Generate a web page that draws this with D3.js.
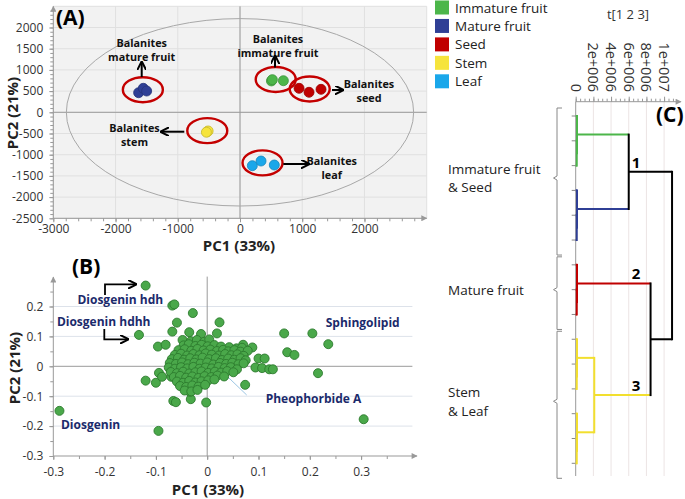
<!DOCTYPE html>
<html><head><meta charset="utf-8">
<script src="https://cdn.jsdelivr.net/npm/d3@7"></script>
<style>body{margin:0;background:#fff;} svg{display:block;} text{font-family:"Open Sans",sans-serif;}</style>
</head><body><svg id="c" width="685" height="499"></svg>
<script>
// ---------------- DATA ----------------
const groups = ["Immature fruit","Mature fruit","Seed","Stem","Leaf"];
const groupColors = ["#4cb64a","#2f3f95","#c00000","#f6e43c","#1aa7ea"];
const immatureFruit = [[505,740],[520,770],[697,745]];
const matureFruit = [[-1629,462],[-1554,566],[-1500,502]];
const seed = [[949,566],[1109,472],[1302,542]];
const stem = [[-526,-458],[-512,-440],[-540,-470]];
const leaf = [[198,-1259],[338,-1149],[551,-1243]];
const scoresA = [immatureFruit, matureFruit, seed, stem, leaf];
const groupLabelsA = [["Balanites","immature fruit"],["Balanites","mature fruit"],["Balanites","seed"],["Balanites","stem"],["Balanites","leaf"]];
const xTicksA = [-3000,-2000,-1000,0,1000,2000];
const yTicksA = [-2500,-2000,-1500,-1000,-500,0,500,1000,1500,2000];

const xTicksB = [-0.3,-0.2,-0.1,0,0.1,0.2,0.3];
const yTicksB = [-0.3,-0.2,-0.1,0,0.1,0.2];
const loadings = [
 [-0.12,0.27],[-0.068,0.203],[-0.064,0.207],[-0.028,0.178],[-0.133,0.105],[-0.288,-0.149],[-0.095,-0.216],
 [0.150,0.11],[0.205,0.11],[0.236,0.074],[0.156,0.047],[0.17,0.038],[0.216,-0.023],[0.305,-0.177],
 [-0.002,-0.121],[0.074,-0.062],[-0.032,-0.11],[-0.066,-0.116],[-0.061,-0.12],[-0.12,-0.048],[-0.1,-0.055],
 [-0.094,-0.022],[-0.088,-0.035],[-0.096,0.066],[-0.081,0.072],[-0.059,0.146],[0.024,0.147],[-0.068,0.116],
 [-0.035,0.114],[-0.012,0.108],[0.019,0.11],[-0.048,0.088],[0.07,0.072],[0.088,0.063],[0.1,0.026],[0.112,0.026],
 [0.094,-0.004],[0.107,-0.006],[0.121,-0.01],[0.128,-0.01],[-0.07,-0.035],[-0.034,-0.085],
 [-0.032,0.084],[-0.02,0.088],[-0.006,0.082],[0.004,0.09],
 [-0.046,0.07],[-0.036,0.074],[-0.023,0.068],[-0.011,0.072],[0.001,0.067],[0.014,0.071],[0.027,0.066],[0.043,0.064],[0.057,0.06],[0.068,0.062],
 [-0.056,0.054],[-0.044,0.057],[-0.031,0.052],[-0.019,0.058],[-0.007,0.053],[0.006,0.056],[0.019,0.051],[0.031,0.055],[0.041,0.05],[0.053,0.054],[0.065,0.049],[0.079,0.052],
 [-0.063,0.038],[-0.051,0.042],[-0.039,0.036],[-0.027,0.041],[-0.015,0.037],[-0.003,0.043],[0.009,0.039],[0.023,0.036],[0.035,0.041],[0.047,0.037],[0.059,0.04],[0.071,0.035],
 [-0.069,0.024],[-0.057,0.028],[-0.045,0.022],[-0.033,0.027],[-0.021,0.023],[-0.009,0.029],[0.004,0.024],[0.017,0.027],[0.029,0.021],[0.041,0.026],[0.053,0.022],[0.065,0.027],[0.075,0.02],
 [-0.073,0.011],[-0.061,0.008],[-0.049,0.013],[-0.037,0.007],[-0.025,0.012],[-0.013,0.009],[0.0,0.013],[0.012,0.006],[0.025,0.011],[0.037,0.008],[0.049,0.012],[0.061,0.007],[0.071,0.01],
 [-0.075,-0.004],[-0.063,-0.008],[-0.051,-0.003],[-0.039,-0.007],[-0.027,-0.002],[-0.015,-0.008],[-0.003,-0.004],[0.009,-0.007],[0.022,-0.002],[0.034,-0.006],[0.046,-0.003],[0.058,-0.01],
 [-0.071,-0.019],[-0.059,-0.023],[-0.047,-0.018],[-0.035,-0.024],[-0.023,-0.02],[-0.011,-0.017],[0.002,-0.022],[0.015,-0.018],[0.027,-0.021],[0.039,-0.016],[0.051,-0.02],
 [-0.065,-0.036],[-0.053,-0.032],[-0.041,-0.038],[-0.029,-0.034],[-0.017,-0.039],[-0.005,-0.033],[0.008,-0.036],[0.02,-0.031],[0.033,-0.034],
 [-0.059,-0.051],[-0.047,-0.055],[-0.035,-0.049],[-0.023,-0.054],[-0.011,-0.05],[0.002,-0.047],[0.014,-0.044],
 [-0.053,-0.066],[-0.041,-0.069],[-0.029,-0.064],[-0.017,-0.068],[-0.004,-0.062],
 [-0.044,-0.081],[-0.031,-0.084],[-0.019,-0.079]
];
const loadingLabels = [["Diosgenin hdh",-0.253,0.21],["Diosgenin hdhh",-0.293,0.136],["Sphingolipid",0.231,0.132],["Pheophorbide A",0.114,-0.122],["Diosgenin",-0.285,-0.21]];

const dendroTicks = [0,2e6,4e6,6e6,8e6,1e7];
const dendroTickLabels = ["0","2e+006","4e+006","6e+006","8e+006","1e+007"];
const leafCount = 15;
// merges: [childA, childB, height, colour]; ids 15.. in order
const dendroMerges = [
 [1,2,0.12e6,"#4cb64a"],[0,15,0.15e6,"#4cb64a"],
 [4,5,0.12e6,"#2f3f95"],[3,17,0.15e6,"#2f3f95"],
 [7,8,0.12e6,"#c00000"],[6,19,0.15e6,"#c00000"],
 [10,11,0.12e6,"#f2df2e"],[9,21,0.15e6,"#f2df2e"],
 [13,14,0.12e6,"#f2df2e"],[12,23,0.15e6,"#f2df2e"],
 [22,24,2.1e6,"#f2df2e"],
 [16,18,6.0e6,"#000"],[20,25,8.47e6,"#000"],[26,27,10.9e6,"#000"]
];
const clusterNumbers = [["1",26],["2",20],["3",25]];
const clusterGroups = [[["Immature fruit","& Seed"],0,5],[["Mature fruit"],6,8],[["Stem","& Leaf"],9,14]];

// ---------------- DRAW ----------------
const svg = d3.select("#c");
const defs = svg.append("defs");
defs.append("marker").attr("id","axArrow").attr("viewBox","0 0 10 10").attr("refX",9).attr("refY",5)
  .attr("markerWidth",8).attr("markerHeight",6).attr("markerUnits","userSpaceOnUse").attr("orient","auto")
  .append("path").attr("d","M0,0L10,5L0,10Z").attr("fill","#999");
defs.append("marker").attr("id","blkArrow").attr("viewBox","0 0 10 10").attr("refX",8).attr("refY",5)
  .attr("markerWidth",9).attr("markerHeight",9).attr("markerUnits","userSpaceOnUse").attr("orient","auto")
  .append("path").attr("d","M0,0L10,5L0,10").attr("fill","none").attr("stroke","#000").attr("stroke-width",2.2);

const fmtInt = d=>String(d);
const fmtDec = d=>d===0?"0":d.toFixed(1);

// ===== Panel A =====
const xA = d3.scaleLinear().domain([-3000,3000]).range([53.3,426.7]);
const yA = d3.scaleLinear().domain([-2500,2500]).range([218.3,6.3]);
const gA = svg.append("g");
gA.append("rect").attr("x",xA(-3000)).attr("y",yA(2500)).attr("width",xA(3000)-xA(-3000)).attr("height",yA(-2500)-yA(2500)).attr("fill","#f2f2f2");
gA.selectAll(".vg").data(d3.range(-3000,3001,1000)).join("line").attr("x1",d=>xA(d)).attr("x2",d=>xA(d)).attr("y1",yA(2500)).attr("y2",yA(-2500)).attr("stroke","#e0e0e0");
gA.selectAll(".hg").data(d3.range(-2500,2501,500)).join("line").attr("y1",d=>yA(d)).attr("y2",d=>yA(d)).attr("x1",xA(-3000)).attr("x2",xA(3000)).attr("stroke","#e0e0e0");
gA.append("line").attr("x1",xA(0)).attr("x2",xA(0)).attr("y1",yA(2500)).attr("y2",yA(-2500)).attr("stroke","#9a9a9a");
gA.append("line").attr("y1",yA(0)).attr("y2",yA(0)).attr("x1",xA(-3000)).attr("x2",xA(3000)).attr("stroke","#9a9a9a");
gA.append("ellipse").attr("cx",xA(0)).attr("cy",yA(0)).attr("rx",xA(2790)-xA(0)).attr("ry",yA(0)-yA(2210)).attr("fill","none").attr("stroke","#a8a8a8").attr("stroke-width",1);
// axes
gA.append("g").attr("transform",`translate(0,${yA(-2500)})`).call(d3.axisBottom(xA).tickValues(d3.range(-3000,2801,200)).tickSize(3).tickFormat("")).call(g=>g.select(".domain").remove());
gA.append("g").attr("transform",`translate(0,${yA(-2500)})`).call(d3.axisBottom(xA).tickValues(xTicksA).tickSize(4).tickPadding(2).tickFormat(fmtInt)).call(g=>g.select(".domain").remove());
gA.append("g").attr("transform",`translate(${xA(-3000)},0)`).call(d3.axisLeft(yA).tickValues(d3.range(-2500,2401,100)).tickSize(3).tickFormat("")).call(g=>g.select(".domain").remove());
gA.append("g").attr("transform",`translate(${xA(-3000)},0)`).call(d3.axisLeft(yA).tickValues(yTicksA).tickSize(4).tickPadding(6).tickFormat(fmtInt)).call(g=>g.select(".domain").remove());
gA.append("line").attr("x1",xA(-3000)).attr("x2",xA(3000)).attr("y1",yA(-2500)).attr("y2",yA(-2500)).attr("stroke","#999").attr("marker-end","url(#axArrow)");
gA.append("line").attr("x1",xA(-3000)).attr("x2",xA(-3000)).attr("y1",yA(-2500)).attr("y2",yA(2500)).attr("stroke","#999").attr("marker-end","url(#axArrow)");
// group ellipses & points
scoresA.forEach((pts,i)=>{
  const mx=d3.mean(pts,d=>d[0]), my=d3.mean(pts,d=>d[1]);
  gA.append("ellipse").attr("cx",xA(mx)).attr("cy",yA(my)-1).attr("rx",20).attr("ry",12.5).attr("fill","none").attr("stroke","#c40000").attr("stroke-width",2.4);
  gA.selectAll(null).data(pts).join("circle").attr("cx",d=>xA(d[0])).attr("cy",d=>yA(d[1])).attr("r",5)
    .attr("fill",groupColors[i]).attr("stroke",d3.color(groupColors[i]).darker(0.6)).attr("stroke-width",0.8);
});
// labels A
const labA = [[278,38.5,0],[141.7,43,1],[369,84,2],[134.5,128,3],[331.7,161,4]];
labA.forEach(([x,y,i])=>{
  const t=gA.append("text").attr("x",x).attr("y",y+4).attr("text-anchor","middle").attr("font-size",10.8).attr("font-weight","bold").attr("fill","#111");
  groupLabelsA[i].forEach((s,k)=>t.append("tspan").attr("x",x).attr("dy",k?14:0).text(s));
});
const arrowsA = [[141.7,77,141.7,63],[275,67.5,275,57],[332,90,342,90],[184.3,131.7,162,131.7],[283.3,164,308,164]];
arrowsA.forEach(a=>gA.append("line").attr("x1",a[0]).attr("y1",a[1]).attr("x2",a[2]).attr("y2",a[3]).attr("stroke","#000").attr("stroke-width",2).attr("marker-end","url(#blkArrow)"));
svg.append("text").attr("x",56).attr("y",25).attr("font-size",21).attr("font-weight","bold").text("(A)");
svg.append("text").attr("x",239).attr("y",250.5).attr("text-anchor","middle").attr("font-size",15).attr("font-weight","bold").attr("fill","#222").text("PC1 (33%)");
svg.append("text").attr("transform","translate(18,113) rotate(-90)").attr("text-anchor","middle").attr("font-size",15).attr("font-weight","bold").attr("fill","#222").text("PC2 (21%)");

// legend
const lg = svg.append("g");
groups.forEach((g,i)=>{
  lg.append("rect").attr("x",435).attr("y",0.5+i*18.45).attr("width",14).attr("height",14).attr("fill",groupColors[i]);
  lg.append("text").attr("x",455).attr("y",12.5+i*18.45).attr("font-size",13.5).attr("fill","#222").text(g);
});

// ===== Panel B =====
const xB = d3.scaleLinear().domain([-0.3,0.4]).range([53.3,412.4]);
const yB = d3.scaleLinear().domain([-0.3,0.3]).range([456,276.6]);
const gB = svg.append("g");
gB.selectAll(".hg").data([-0.2,-0.1,0.1,0.2]).join("line").attr("x1",xB(-0.3)).attr("x2",xB(0.4)).attr("y1",d=>yB(d)).attr("y2",d=>yB(d)).attr("stroke","#dde2ea");
gB.append("line").attr("x1",xB(0)).attr("x2",xB(0)).attr("y1",yB(-0.3)).attr("y2",yB(0.3)).attr("stroke","#9a9a9a");
gB.append("line").attr("y1",yB(0)).attr("y2",yB(0)).attr("x1",xB(-0.3)).attr("x2",xB(0.4)).attr("stroke","#9a9a9a");
gB.append("line").attr("x1",xB(-0.03)).attr("y1",yB(0.08)).attr("x2",xB(0.077)).attr("y2",yB(-0.096)).attr("stroke","#9cc6e4").attr("stroke-width",1);
gB.append("g").attr("transform",`translate(0,${yB(-0.3)})`).call(d3.axisBottom(xB).tickValues(d3.range(-0.3,0.38,0.05)).tickSize(3).tickFormat("")).call(g=>g.select(".domain").remove());
gB.append("g").attr("transform",`translate(0,${yB(-0.3)})`).call(d3.axisBottom(xB).tickValues(xTicksB).tickSize(4).tickPadding(7).tickFormat(fmtDec)).call(g=>g.select(".domain").remove());
gB.append("g").attr("transform",`translate(${xB(-0.3)},0)`).call(d3.axisLeft(yB).tickValues(d3.range(-0.3,0.28,0.05)).tickSize(3).tickFormat("")).call(g=>g.select(".domain").remove());
gB.append("g").attr("transform",`translate(${xB(-0.3)},0)`).call(d3.axisLeft(yB).tickValues(yTicksB).tickSize(4).tickPadding(6).tickFormat(fmtDec)).call(g=>g.select(".domain").remove());
gB.append("line").attr("x1",xB(-0.3)).attr("x2",417).attr("y1",yB(-0.3)).attr("y2",yB(-0.3)).attr("stroke","#999").attr("marker-end","url(#axArrow)");
gB.append("line").attr("x1",xB(-0.3)).attr("x2",xB(-0.3)).attr("y1",yB(-0.3)).attr("y2",277).attr("stroke","#999").attr("marker-end","url(#axArrow)");
gB.selectAll(".pt").data(loadings).join("circle").attr("cx",d=>xB(d[0])).attr("cy",d=>yB(d[1])).attr("r",4.5)
  .attr("fill","#4aa84a").attr("stroke","#2c7a2e").attr("stroke-width",0.9);
loadingLabels.forEach(([s,x,y])=>gB.append("text").attr("x",xB(x)).attr("y",yB(y)).attr("font-size",12).attr("font-weight","bold").attr("fill","#1b2a6b").text(s));
gB.append("path").attr("d","M105,295V284.3H135").attr("fill","none").attr("stroke","#000").attr("stroke-width",1.8).attr("marker-end","url(#blkArrow)");
gB.append("path").attr("d","M104.3,329V339.3H127").attr("fill","none").attr("stroke","#000").attr("stroke-width",1.8).attr("marker-end","url(#blkArrow)");
svg.append("text").attr("x",72).attr("y",274).attr("font-size",21).attr("font-weight","bold").text("(B)");
svg.append("text").attr("x",208).attr("y",495).attr("text-anchor","middle").attr("font-size",15).attr("font-weight","bold").attr("fill","#222").text("PC1 (33%)");
svg.append("text").attr("transform","translate(20,368) rotate(-90)").attr("text-anchor","middle").attr("font-size",15).attr("font-weight","bold").attr("fill","#222").text("PC2 (21%)");

svg.selectAll(".tick text").attr("fill","#333").attr("font-size",12).attr("font-family","'Open Sans',sans-serif");
svg.selectAll(".tick line").attr("stroke","#999");

// ===== Panel C: dendrogram =====
const tS = d3.scaleLinear().domain([0,11.8e6]).range([575.7,680]);
const leafY = d3.scalePoint().domain(d3.range(leafCount)).range([116,463.3]);
const gC = svg.append("g");
gC.selectAll(".cg").data(dendroTicks.slice(1)).join("line").attr("x1",d=>tS(d)).attr("x2",d=>tS(d)).attr("y1",101.7).attr("y2",476).attr("stroke","#ece4e4");
gC.append("g").attr("transform","translate(0,101.7)").call(d3.axisTop(tS).tickValues(d3.range(0,11.01e6,0.5e6)).tickSize(3).tickFormat("")).call(g=>g.select(".domain").remove()).selectAll("line").attr("stroke","#999");
gC.append("g").attr("transform","translate(0,101.7)").call(d3.axisTop(tS).tickValues(dendroTicks).tickSize(5).tickFormat("")).call(g=>g.select(".domain").remove()).selectAll("line").attr("stroke","#999");
gC.append("line").attr("x1",tS(0)).attr("x2",681).attr("y1",101.7).attr("y2",101.7).attr("stroke","#999").attr("marker-end","url(#axArrow)");
gC.append("line").attr("x1",tS(0)).attr("x2",tS(0)).attr("y1",101.7).attr("y2",476).attr("stroke","#999");
dendroTicks.forEach((t,i)=>gC.append("text").attr("transform",`translate(${tS(t)},92) rotate(90)`).attr("text-anchor","end").attr("dy","0.35em").attr("font-size",14.5).attr("fill","#333").text(dendroTickLabels[i]));
gC.append("text").attr("x",628).attr("y",19).attr("text-anchor","middle").attr("font-size",13).attr("fill","#333").text("t[1 2 3]");
gC.selectAll(".lt").data(d3.range(leafCount)).join("line").attr("x1",tS(0)-4).attr("x2",tS(0)).attr("y1",d=>leafY(d)).attr("y2",d=>leafY(d)).attr("stroke","#888");
// compute node positions
const nodes = d3.range(leafCount).map(i=>({y:leafY(i),h:0,color:null}));
dendroMerges.forEach(m=>{
  const a=nodes[m[0]], b=nodes[m[1]];
  const n={y:(a.y+b.y)/2,h:m[2],color:m[3],kids:[a,b]};
  a.color = a.color||m[3]; b.color = b.color||m[3];
  nodes.push(n);
});
nodes.forEach(n=>{ if(!n.kids) return;
  n.kids.forEach(k=>{
    const c = k.kids ? k.color : n.color;
    gC.append("line").attr("x1",tS(k.h)).attr("x2",tS(n.h)).attr("y1",k.y).attr("y2",k.y).attr("stroke",c).attr("stroke-width",2);
  });
  gC.append("line").attr("x1",tS(n.h)).attr("x2",tS(n.h)).attr("y1",n.kids[0].y).attr("y2",n.kids[1].y).attr("stroke",n.color).attr("stroke-width",2).attr("stroke-linecap","square");
});
clusterNumbers.forEach(([s,id])=>{
  const n=nodes[id];
  gC.append("text").attr("x",636).attr("y",n.y-4).attr("text-anchor","middle").attr("font-size",15).attr("font-weight","bold").text(s);
});
clusterGroups.forEach(([lines,a,b])=>{
  const y0=leafY(a)-8, y1=leafY(b)+15, ym=(leafY(a)+leafY(b))/2;
  gC.append("path").attr("d",`M562,${y0}H557V${ym-2}L553.5,${ym}L557,${ym+2}V${y1}H562`).attr("fill","none").attr("stroke","#888").attr("stroke-width",1);
  const t=gC.append("text").attr("font-size",13.5).attr("fill","#222");
  const y = ym - (lines.length-1)*9.3 + 5;
  lines.forEach((s,k)=>t.append("tspan").attr("x",448).attr("y",y+k*18.6).text(s));
});
svg.append("text").attr("x",656).attr("y",122).attr("font-size",21).attr("font-weight","bold").text("(C)");
</script></body></html>
